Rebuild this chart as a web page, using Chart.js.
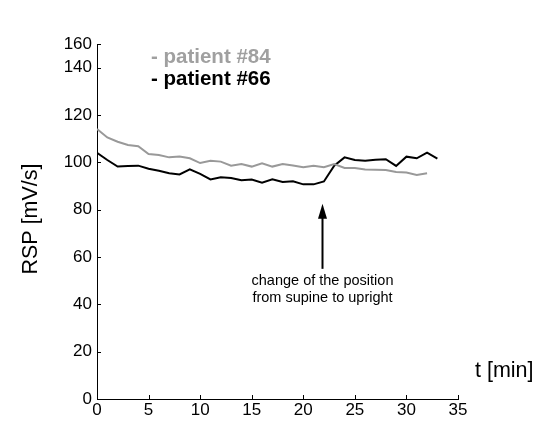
<!DOCTYPE html>
<html>
<head>
<meta charset="utf-8">
<script src="https://cdn.jsdelivr.net/npm/chart.js@4"></script>
<style>
  html, body { margin: 0; padding: 0; background: #fff; }
  #wrap { width: 542px; height: 421px; position: relative; }
</style>
</head>
<body>
<div id="wrap"><canvas id="chart"></canvas></div>
<script>
// minutes
const minutes = [0,1,2,3,4,5,6,7,8,9,10,11,12,13,14,15,16,17,18,19,20,21,22,23,24,25,26,27,28,29,30,31,32,33]
// RSP [mV/s]
const patient84 = [114.1,110.5,108.7,107.3,106.8,103.5,103.1,102.1,102.5,101.7,99.7,100.7,100.3,98.6,99.3,98.2,99.6,98.2,99.3,98.7,97.9,98.6,97.9,99.3,97.6,97.6,97.0,96.9,96.8,95.9,95.7,94.7,95.4]
const patient66 = [104.0,101.0,98.2,98.4,98.6,97.3,96.4,95.4,94.9,97.0,95.1,92.8,93.7,93.4,92.4,92.7,91.4,92.8,91.7,92.0,90.7,90.7,91.9,98.6,102.1,101.0,100.7,101.1,101.3,98.5,102.4,101.7,104.1,101.6]

const xTicks = [0,5,10,15,20,25,30,35]
const yTicks = [0,20,40,60,80,100,120,140,150]
const yTickLabels = ['0','20','40','60','80','100','120','140','160']

const FONT = "'Liberation Sans', Arial, sans-serif"

const toPoints = (ys) => ys.map((y, i) => ({ x: minutes[i], y: y }))

const extras = {
    id: 'extras',
    afterDraw(chart) {
        const ctx = chart.ctx
        const xs = chart.scales.x, ys = chart.scales.y
        const area = chart.chartArea
        ctx.save()
        // inner tick marks
        ctx.strokeStyle = '#000'
        ctx.lineWidth = 1
        ctx.beginPath()
        xTicks.forEach(v => {
            const px = Math.round(xs.getPixelForValue(v)) + 0.5
            ctx.moveTo(px, area.bottom)
            ctx.lineTo(px, area.bottom - 4)
        })
        yTicks.forEach(v => {
            const py = Math.round(ys.getPixelForValue(v)) + 0.5
            ctx.moveTo(area.left, py)
            ctx.lineTo(area.left + 4, py)
        })
        ctx.stroke()

        // legend text
        ctx.font = 'bold 20.5px ' + FONT
        ctx.textBaseline = 'middle'
        ctx.textAlign = 'left'
        ctx.fillStyle = '#a0a0a0'
        ctx.fillText('- patient #84', 151, 57)
        ctx.fillStyle = '#000'
        ctx.fillText('- patient #66', 151, 79)

        // axis titles
        ctx.font = '21.5px ' + FONT
        ctx.textAlign = 'left'
        ctx.fillText('t [min]', 475, 371)
        ctx.save()
        ctx.translate(31, 219)
        ctx.rotate(-Math.PI / 2)
        ctx.textAlign = 'center'
        ctx.fillText('RSP [mV/s]', 0, 0)
        ctx.restore()

        // arrow annotation
        const ax = Math.round(xs.getPixelForValue(21.8)) + 0.5
        const yTop = ys.getPixelForValue(82.5)
        const yBot = ys.getPixelForValue(55)
        ctx.strokeStyle = '#000'
        ctx.lineWidth = 2
        ctx.beginPath()
        ctx.moveTo(ax, yBot)
        ctx.lineTo(ax, yTop + 10)
        ctx.stroke()
        ctx.beginPath()
        ctx.moveTo(ax, yTop)
        ctx.lineTo(ax - 4.5, yTop + 15)
        ctx.lineTo(ax + 4.5, yTop + 15)
        ctx.closePath()
        ctx.fill()

        ctx.font = '14.5px ' + FONT
        ctx.textAlign = 'center'
        ctx.textBaseline = 'middle'
        ctx.fillText('change of the position', ax, 281)
        ctx.fillText('from supine to upright', ax, 298)
        ctx.restore()
    }
}

new Chart(document.getElementById('chart'), {
    type: 'line',
    data: {
        datasets: [
            {
                label: 'patient #84',
                data: toPoints(patient84),
                borderColor: '#999999',
                borderWidth: 2,
                pointRadius: 0,
                tension: 0,
                fill: false
            },
            {
                label: 'patient #66',
                data: toPoints(patient66),
                borderColor: '#000000',
                borderWidth: 2,
                pointRadius: 0,
                tension: 0,
                fill: false
            }
        ]
    },
    options: {
        responsive: true,
        maintainAspectRatio: false,
        animation: false,
        layout: { padding: { left: 0, top: 44, right: 84, bottom: 0 } },
        plugins: { legend: { display: false }, tooltip: { enabled: false } },
        scales: {
            x: {
                type: 'linear',
                min: 0,
                max: 35,
                afterBuildTicks: (s) => { s.ticks = xTicks.map(v => ({ value: v })) },
                afterFit: (s) => { s.height = 22 },
                grid: { display: false, drawTicks: false },
                border: { display: true, color: '#000', width: 1 },
                ticks: { color: '#000', font: { family: FONT, size: 17 }, padding: 1, maxRotation: 0 }
            },
            y: {
                min: 0,
                max: 150,
                afterBuildTicks: (s) => { s.ticks = yTicks.map(v => ({ value: v })) },
                afterFit: (s) => { s.width = 97 },
                grid: { display: false, drawTicks: false },
                border: { display: true, color: '#000', width: 1 },
                ticks: {
                    color: '#000',
                    font: { family: FONT, size: 17 },
                    padding: 5,
                    callback: (v) => yTickLabels[yTicks.indexOf(v)]
                }
            }
        }
    },
    plugins: [extras]
})
</script>
</body>
</html>
